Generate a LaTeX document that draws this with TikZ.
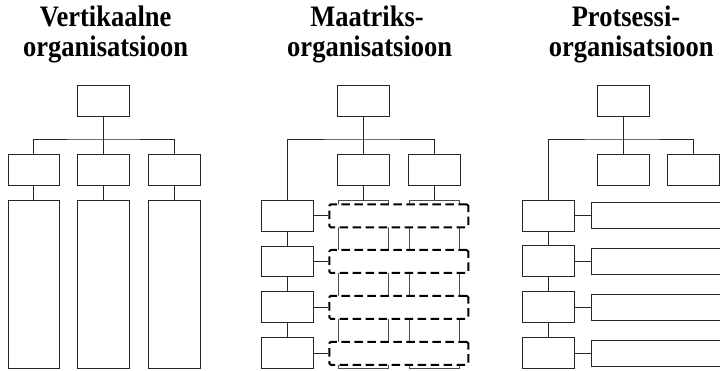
\documentclass[tikz,border=0pt]{standalone}
\usepackage{fontspec}
\setmainfont{Liberation Serif}
\begin{document}
\begin{tikzpicture}[x=1pt,y=-1pt,
  unit/.style={draw=black!85, line width=1pt, inner sep=0pt, minimum width=51.6pt, minimum height=30.7pt},
  tallbox/.style={unit, minimum height=168pt},
  column/.style={draw=black!70, line width=1pt, inner sep=0pt, minimum width=50pt, minimum height=168.3pt},
  taskrow/.style={draw=black, line width=2pt, dash pattern=on 8.5pt off 4.5pt, rounded corners=1.5pt,
    fill=white, inner sep=0pt, minimum width=139pt, minimum height=23pt},
  procbar/.style={draw=black!85, line width=1pt, inner sep=0pt, minimum width=150pt, minimum height=26pt, anchor=west},
  link/.style={draw=black!85, line width=1pt},
  heading/.style={font=\bfseries\fontsize{26.5}{30}\selectfont, anchor=base, inner sep=0pt}]
\useasboundingbox (0,0) rectangle (720,371);

% headings
\node[heading] (h1a) at (105.6,26.7) {\scalebox{1}[1.12]{Vertikaalne}};
\node[heading] (h1b) at (105.6,56.5) {\scalebox{1}[1.12]{organisatsioon}};
\node[heading] (h2a) at (367,26.7) {\scalebox{1}[1.12]{Maatriks-}};
\node[heading] (h2b) at (369.7,56.5) {\scalebox{1}[1.12]{organisatsioon}};
\node[heading] (h3a) at (626,26.7) {\scalebox{1}[1.12]{Protsessi-}};
\node[heading] (h3b) at (631.2,56.5) {\scalebox{1}[1.12]{organisatsioon}};

% vertical organisation
\node[unit] (vtop) at (103.5,101.3) {};
\node[unit] (v1) at (33.8,169.7) {};
\node[unit] (v2) at (103.5,169.7) {};
\node[unit] (v3) at (174.2,169.7) {};
\node[tallbox] (t1) at (33.8,284.3) {};
\node[tallbox] (t2) at (103.5,284.3) {};
\node[tallbox] (t3) at (174.2,284.3) {};
\coordinate (vbus) at (103.5,140);
\draw[link] (vtop.south) -- (v2.north);
\draw[link] (v1.north) |- (vbus) -| (v3.north);
\foreach \i in {1,2,3} \draw[link] (v\i.south) -- (t\i.north);

% matrix organisation
\node[unit] (mtop) at (363.3,101.3) {};
\node[unit] (mc1) at (363.3,169.7) {};
\node[unit] (mc2) at (434.3,169.7) {};
\node[column] (mcol1) at (363.3,284.2) {};
\node[column] (mcol2) at (434.3,284.2) {};
\coordinate (mbus) at (363.3,140);
\draw[link] (mtop.south) -- (mc1.north);
\draw[link] (mc1.south) -- (mcol1.north);
\draw[link] (mc2.south) -- (mcol2.north);
\foreach \i/\y in {1/215.8,2/261.5,3/307.3,4/353.3} {
  \node[unit] (mr\i) at (287.5,\y) {};
  \node[taskrow] (mrow\i) at (398.8,\y) {};
  \draw[link] (mr\i.east) -- (mrow\i.west);
}
\draw[link] (mr1.north) |- (mbus) -| (mc2.north);
\draw[link] (mr1.south) -- (mr2.north);
\draw[link] (mr2.south) -- (mr3.north);
\draw[link] (mr3.south) -- (mr4.north);

% process organisation
\node[unit] (ptop) at (623.2,101.3) {};
\node[unit] (pc1) at (623.2,169.7) {};
\node[unit] (pc2) at (693.5,169.7) {};
\coordinate (pbus) at (623.2,140);
\draw[link] (ptop.south) -- (pc1.north);
\foreach \i/\y in {1/215.8,2/261.3,3/307.3,4/353} {
  \node[unit] (pr\i) at (548.5,\y) {};
  \node[procbar] (pb\i) at (591,\y) {};
  \draw[link] (pr\i.east) -- (pb\i.west);
}
\draw[link] (pr1.north) |- (pbus) -| (pc2.north);
\draw[link] (pr1.south) -- (pr2.north);
\draw[link] (pr2.south) -- (pr3.north);
\draw[link] (pr3.south) -- (pr4.north);
\end{tikzpicture}
\end{document}
